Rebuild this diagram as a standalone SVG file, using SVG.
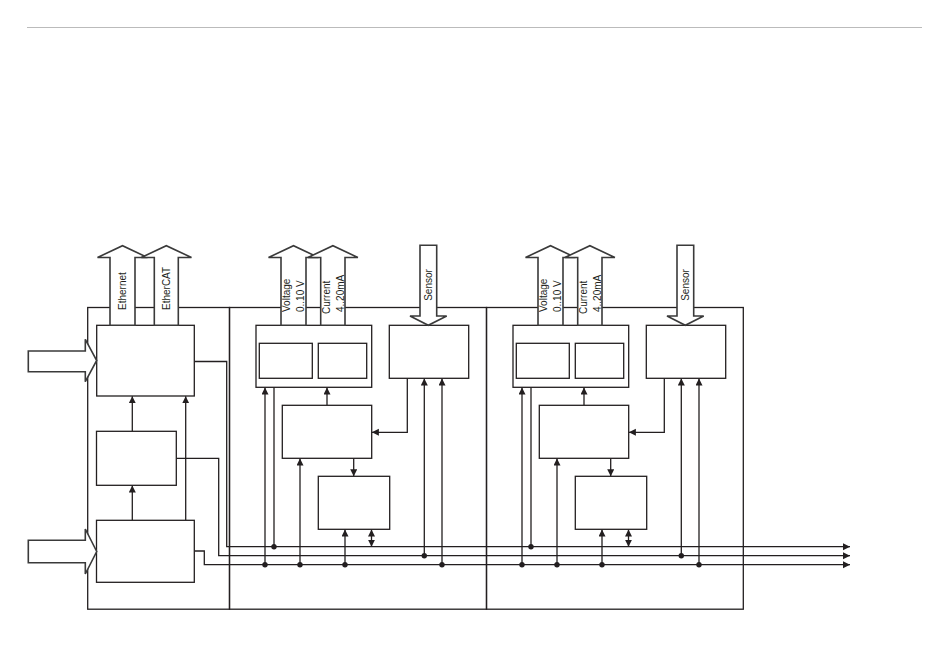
<svg xmlns="http://www.w3.org/2000/svg" width="950" height="657" viewBox="0 0 950 657">
<defs>
<style>
.ln{fill:none;stroke:#231f20;stroke-width:1.3}
.bx{fill:#fff;stroke:#231f20;stroke-width:1.3}
.ba{fill:#fff;stroke:#3a3a3a;stroke-width:1.6;stroke-linejoin:miter}
.dot{fill:#231f20}
.t{font-family:"Liberation Sans",Arial,sans-serif;font-size:10px;fill:#231f20}
</style>
<marker id="ah" markerUnits="userSpaceOnUse" markerWidth="8" markerHeight="8" refX="7" refY="3.5" orient="auto">
<path d="M0,0 L7,3.5 L0,7 z" fill="#231f20"/>
</marker>
<marker id="ahs" markerUnits="userSpaceOnUse" markerWidth="8" markerHeight="8" refX="7" refY="3.5" orient="auto-start-reverse">
<path d="M0,0 L7,3.5 L0,7 z" fill="#231f20"/>
</marker>
</defs>
<rect width="950" height="657" fill="#fff"/>
<line x1="27" y1="27.5" x2="922" y2="27.5" stroke="#bbb" stroke-width="1.2"/>

<g id="frames">
<rect class="ln" x="87.7" y="307.5" width="141.8" height="301.7"/>
<rect class="ln" x="229.5" y="307.5" width="257" height="301.7"/>
<rect class="ln" x="486.5" y="307.5" width="256.8" height="301.7"/>
</g>

<g id="connectors">
<polyline class="ln" points="194.3,361.5 226.7,361.5 226.7,546.7 850,546.7" marker-end="url(#ah)"/>
<polyline class="ln" points="176.3,458.3 218.7,458.3 218.7,555.7 850,555.7" marker-end="url(#ah)"/>
<polyline class="ln" points="194.3,551 204.3,551 204.3,564.7 850,564.7" marker-end="url(#ah)"/>
<line class="ln" x1="132.3" y1="520.3" x2="132.3" y2="485.5" marker-end="url(#ah)"/>
<line class="ln" x1="132.3" y1="431.3" x2="132.3" y2="396.2" marker-end="url(#ah)"/>
<line class="ln" x1="185.7" y1="520.3" x2="185.7" y2="396.2" marker-end="url(#ah)"/>
<g id="m2conn">
<line class="ln" x1="327" y1="405.3" x2="327" y2="387.5" marker-end="url(#ah)"/>
<polyline class="ln" points="407.3,378.3 407.3,432.3 371.9,432.3" marker-end="url(#ah)"/>
<line class="ln" x1="353.7" y1="458.3" x2="353.7" y2="476.3" marker-end="url(#ah)"/>
<line class="ln" x1="265" y1="564.7" x2="265" y2="387.5" marker-end="url(#ah)"/>
<line class="ln" x1="274" y1="546.7" x2="274" y2="378.5" marker-end="url(#ah)"/>
<line class="ln" x1="300" y1="564.7" x2="300" y2="458.5" marker-end="url(#ah)"/>
<line class="ln" x1="345" y1="564.7" x2="345" y2="529.5" marker-end="url(#ah)"/>
<line class="ln" x1="371.5" y1="546.7" x2="371.5" y2="529.5" marker-start="url(#ahs)" marker-end="url(#ah)"/>
<line class="ln" x1="424.3" y1="555.7" x2="424.3" y2="378.5" marker-end="url(#ah)"/>
<line class="ln" x1="442" y1="564.7" x2="442" y2="378.5" marker-end="url(#ah)"/>
<circle class="dot" cx="265" cy="564.7" r="2.7"/>
<circle class="dot" cx="274" cy="546.7" r="2.7"/>
<circle class="dot" cx="300" cy="564.7" r="2.7"/>
<circle class="dot" cx="345" cy="564.7" r="2.7"/>
<circle class="dot" cx="424.3" cy="555.7" r="2.7"/>
<circle class="dot" cx="442" cy="564.7" r="2.7"/>
</g>
<g id="m3conn" transform="translate(257,0)">
<line class="ln" x1="327" y1="405.3" x2="327" y2="387.5" marker-end="url(#ah)"/>
<polyline class="ln" points="407.3,378.3 407.3,432.3 371.9,432.3" marker-end="url(#ah)"/>
<line class="ln" x1="353.7" y1="458.3" x2="353.7" y2="476.3" marker-end="url(#ah)"/>
<line class="ln" x1="265" y1="564.7" x2="265" y2="387.5" marker-end="url(#ah)"/>
<line class="ln" x1="274" y1="546.7" x2="274" y2="378.5" marker-end="url(#ah)"/>
<line class="ln" x1="300" y1="564.7" x2="300" y2="458.5" marker-end="url(#ah)"/>
<line class="ln" x1="345" y1="564.7" x2="345" y2="529.5" marker-end="url(#ah)"/>
<line class="ln" x1="371.5" y1="546.7" x2="371.5" y2="529.5" marker-start="url(#ahs)" marker-end="url(#ah)"/>
<line class="ln" x1="424.3" y1="555.7" x2="424.3" y2="378.5" marker-end="url(#ah)"/>
<line class="ln" x1="442" y1="564.7" x2="442" y2="378.5" marker-end="url(#ah)"/>
<circle class="dot" cx="265" cy="564.7" r="2.7"/>
<circle class="dot" cx="274" cy="546.7" r="2.7"/>
<circle class="dot" cx="300" cy="564.7" r="2.7"/>
<circle class="dot" cx="345" cy="564.7" r="2.7"/>
<circle class="dot" cx="424.3" cy="555.7" r="2.7"/>
<circle class="dot" cx="442" cy="564.7" r="2.7"/>
</g>
</g>

<g id="left-module">
<rect id="box-a" class="bx" x="96.7" y="325.3" width="97.6" height="70.7"/>
<rect id="box-b" class="bx" x="96.5" y="431.3" width="79.8" height="54"/>
<rect id="box-c" class="bx" x="96.5" y="520.3" width="97.8" height="62"/>
<g id="in-arrow-1"><polygon class="ba" points="28.3,351 85.3,351 85.3,339.3 96.7,360.5 85.3,381.7 85.3,371.7 28.3,371.7"/></g>
<g id="in-arrow-2"><polygon class="ba" points="28.3,540.3 85.3,540.3 85.3,529 96.7,551.5 85.3,574 85.3,562.7 28.3,562.7"/></g>
<g id="ethernet">
<polygon class="ba" points="110,325.3 110,257.5 97.5,257.5 122.5,245.7 147.5,257.5 135,257.5 135,325.3"/>
<text class="t" transform="translate(125.8,310) rotate(-90)">Ethernet</text>
</g>
<g id="ethercat">
<polygon class="ba" points="154.3,325.3 154.3,257.5 141.3,257.5 166.3,245.7 191.5,257.5 178.3,257.5 178.3,325.3"/>
<text class="t" transform="translate(169.6,310) rotate(-90)">EtherCAT</text>
</g>
</g>

<g id="module2">
<rect class="bx" x="256" y="325.3" width="115.7" height="62"/>
<rect class="bx" x="259.3" y="343.3" width="53" height="35"/>
<rect class="bx" x="318.3" y="343.3" width="48.4" height="35"/>
<rect class="bx" x="389.3" y="325.3" width="79.4" height="53"/>
<rect class="bx" x="282.3" y="405.3" width="89.4" height="53"/>
<rect class="bx" x="318.3" y="476.3" width="71.4" height="53"/>
<g id="m2-voltage">
<polygon class="ba" points="281,325.3 281,257.5 268.5,257.5 293.5,245.7 318.5,257.5 306,257.5 306,325.3"/>
<text class="t" transform="translate(290.2,312) rotate(-90)">Voltage</text>
<text class="t" transform="translate(304.2,312) rotate(-90)">0..10 V</text>
</g>
<g id="m2-current">
<polygon class="ba" points="320.7,325.3 320.7,257.5 307.9,257.5 332.9,245.7 357.9,257.5 345,257.5 345,325.3"/>
<text class="t" transform="translate(330.2,314) rotate(-90)">Current</text>
<text class="t" transform="translate(343.5,312) rotate(-90)">4..20mA</text>
</g>
<g id="m2-sensor">
<polygon class="ba" points="420,245.2 436.7,245.2 436.7,316 446.7,316 428.3,325.3 410,316 420,316"/>
<text class="t" transform="translate(431.8,285) rotate(-90)" text-anchor="middle">Sensor</text>
</g>
</g>

<g id="module3" transform="translate(257,0)">
<rect class="bx" x="256" y="325.3" width="115.7" height="62"/>
<rect class="bx" x="259.3" y="343.3" width="53" height="35"/>
<rect class="bx" x="318.3" y="343.3" width="48.4" height="35"/>
<rect class="bx" x="389.3" y="325.3" width="79.4" height="53"/>
<rect class="bx" x="282.3" y="405.3" width="89.4" height="53"/>
<rect class="bx" x="318.3" y="476.3" width="71.4" height="53"/>
<g id="m3-voltage">
<polygon class="ba" points="281,325.3 281,257.5 268.5,257.5 293.5,245.7 318.5,257.5 306,257.5 306,325.3"/>
<text class="t" transform="translate(290.2,312) rotate(-90)">Voltage</text>
<text class="t" transform="translate(304.2,312) rotate(-90)">0..10 V</text>
</g>
<g id="m3-current">
<polygon class="ba" points="320.7,325.3 320.7,257.5 307.9,257.5 332.9,245.7 357.9,257.5 345,257.5 345,325.3"/>
<text class="t" transform="translate(330.2,314) rotate(-90)">Current</text>
<text class="t" transform="translate(343.5,312) rotate(-90)">4..20mA</text>
</g>
<g id="m3-sensor">
<polygon class="ba" points="420,245.2 436.7,245.2 436.7,316 446.7,316 428.3,325.3 410,316 420,316"/>
<text class="t" transform="translate(431.8,285) rotate(-90)" text-anchor="middle">Sensor</text>
</g>
</g>
</svg>
